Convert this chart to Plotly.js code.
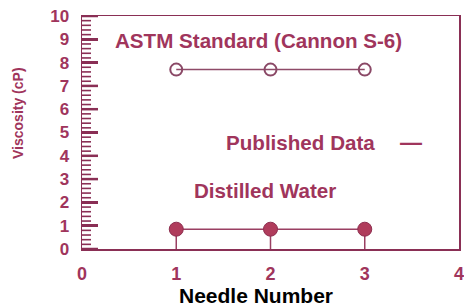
<!DOCTYPE html>
<html>
<head>
<meta charset="utf-8">
<script src="https://cdn.plot.ly/plotly-3.0.1.min.js"></script>
<style>html,body{margin:0;padding:0;background:#fff;}#chart{width:464px;height:307px;}</style>
</head>
<body>
<div id="chart"></div>
<script>
const needles = [1, 2, 3];
const astmViscosity = [7.7, 7.7, 7.7];
const waterViscosity = [0.85, 0.85, 0.85];
const xTicks = [0, 1, 2, 3, 4];
const yTicks = [0, 1, 2, 3, 4, 5, 6, 7, 8, 9, 10];
const yMinorStep = 0.2;
const labels = {
  astm: "ASTM Standard (Cannon S-6)",
  published: "Published Data",
  water: "Distilled Water",
  xTitle: "Needle Number",
  yTitle: "Viscosity (cP)"
};

const maroon = "#a0355c";
const lineCol = "#8a2f55";
const fontFam = "Liberation Sans, Arial, sans-serif";
const b = s => "<b>" + s + "</b>";

const minorVals = [];
for (let i = 0; i < (yTicks.length - 1) * 5; i++) {
  if (i % 5 !== 0) minorVals.push(+(i * yMinorStep).toFixed(2));
}

const traces = [
  {
    x: needles, y: astmViscosity, type: "scatter", mode: "lines+markers",
    line: {color: "#8e4a68", width: 1.5},
    marker: {symbol: "circle-open", size: 12, color: "#8a4866", line: {width: 2}},
    hoverinfo: "skip", showlegend: false
  },
  {
    x: needles, y: waterViscosity, type: "scatter", mode: "lines+markers",
    line: {color: "#9a3f62", width: 1.5},
    marker: {symbol: "circle", size: 14, color: "#b03c5c", line: {color: "#8e2f50", width: 1}},
    error_y: {type: "data", symmetric: false, array: [0, 0, 0], arrayminus: waterViscosity,
              width: 0, thickness: 1.5, color: "#9a3f62"},
    hoverinfo: "skip", showlegend: false
  }
];

// y-axis tick marks drawn as pixel-sized shapes anchored to the left frame edge
const tickShape = (v, len, w) => ({
  type: "line", xref: "paper", xsizemode: "pixel", xanchor: 0, x0: 0, x1: len,
  yref: "y", y0: v, y1: v, line: {color: lineCol, width: w}, layer: "above"
});
const shapes = yTicks.map(v => tickShape(v, 16, 2.5))
  .concat(minorVals.map(v => tickShape(v, 9, 1.6)));

const layout = {
  width: 464, height: 307,
  margin: {l: 82, r: 5, t: 16, b: 58, pad: 0},
  paper_bgcolor: "#ffffff", plot_bgcolor: "#ffffff",
  showlegend: false,
  xaxis: {
    range: [0, 4], tickmode: "array", tickvals: xTicks, ticktext: xTicks.map(v => b(String(v))),
    showgrid: false, zeroline: false, showline: true, mirror: true,
    linecolor: lineCol, linewidth: 1.5, ticks: "",
    ticklabelstandoff: 8, ticklabeloverflow: "allow",
    tickfont: {family: fontFam, size: 18, color: maroon}
  },
  yaxis: {
    range: [0, 10], tickmode: "array", tickvals: yTicks, ticktext: yTicks.map(v => b(String(v))),
    showgrid: false, zeroline: false, showline: true, mirror: true,
    linecolor: lineCol, linewidth: 1.5,
    ticks: "inside", ticklen: 16, tickwidth: 2.5, tickcolor: lineCol,
    ticklabelstandoff: 8,
    tickfont: {family: fontFam, size: 17, color: maroon}
  },
  shapes: shapes,
  annotations: [
    {x: 0.33, y: 8.97, xref: "x", yref: "y", xanchor: "left", yanchor: "middle",
     text: b(labels.astm), showarrow: false,
     font: {family: fontFam, size: 20.6, color: maroon}},
    {x: 1.51, y: 4.55, xref: "x", yref: "y", xanchor: "left", yanchor: "middle",
     text: b(labels.published), showarrow: false,
     font: {family: fontFam, size: 20.6, color: maroon}},
    {x: 3.49, y: 4.55, xref: "x", yref: "y", xanchor: "center", yanchor: "middle",
     text: b("—"), showarrow: false,
     font: {family: fontFam, size: 22, color: maroon}},
    {x: 1.17, y: 2.53, xref: "x", yref: "y", xanchor: "left", yanchor: "middle",
     text: b(labels.water), showarrow: false,
     font: {family: fontFam, size: 20.6, color: maroon}},
    {x: 256, y: 295, xref: "paper", yref: "paper", text: b(labels.xTitle), showarrow: false,
     font: {family: fontFam, size: 21, color: "#000000"}},
    {x: 18, y: 113, xref: "paper", yref: "paper", text: b(labels.yTitle), showarrow: false,
     textangle: -90,
     font: {family: fontFam, size: 14, color: maroon}}
  ]
};

const pw = 464 - 82 - 5, ph = 307 - 16 - 58;
layout.annotations.forEach(a => {
  if (a.xref === "paper") {
    a.x = (a.x - 82) / pw;
    a.y = (307 - 58 - a.y) / ph;
    a.xanchor = "center"; a.yanchor = "middle";
  }
});

Plotly.newPlot("chart", traces, layout, {staticPlot: true, displayModeBar: false});
</script>
</body>
</html>
